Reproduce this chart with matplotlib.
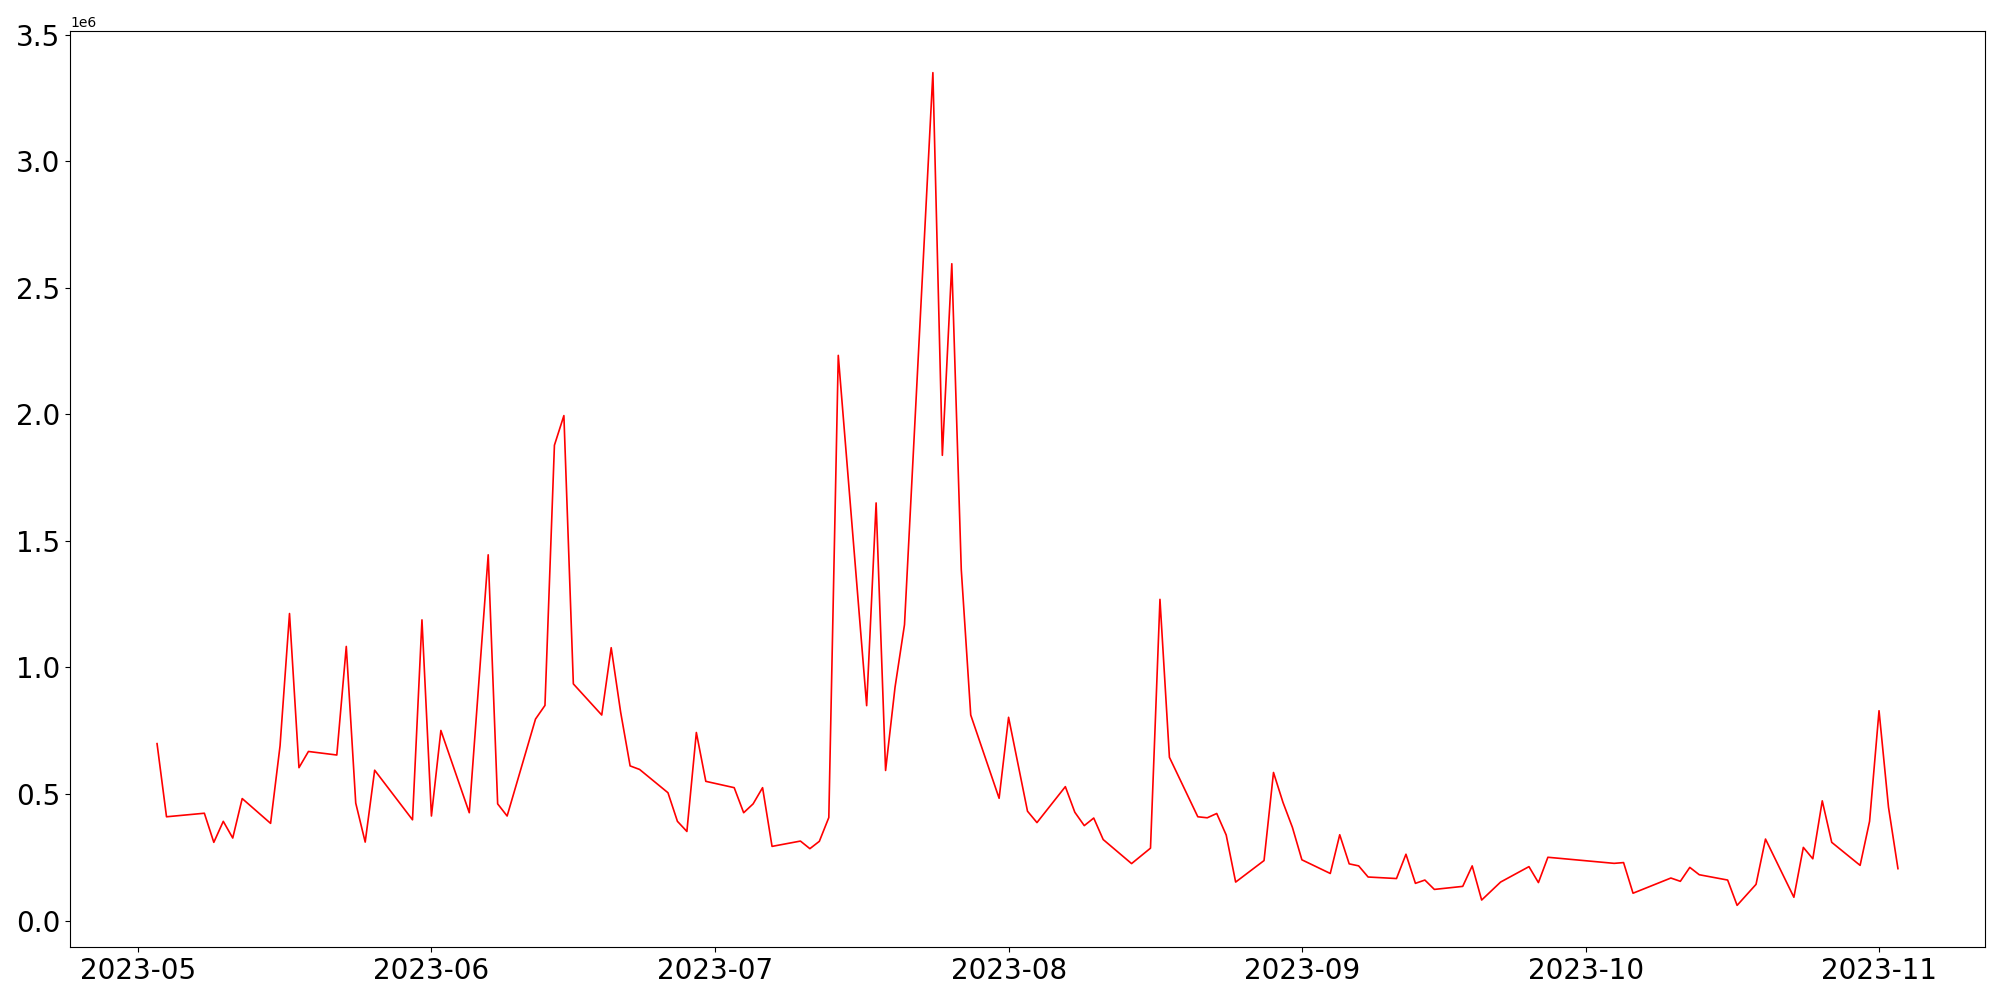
import matplotlib
matplotlib.use("Agg")
import matplotlib.pyplot as plt
import pandas as pd

# daily values
dates = [
    "2023-05-03", "2023-05-04", "2023-05-08", "2023-05-09", "2023-05-10", "2023-05-11", "2023-05-12",
    "2023-05-15", "2023-05-16", "2023-05-17", "2023-05-18", "2023-05-19", "2023-05-22", "2023-05-23",
    "2023-05-24", "2023-05-25", "2023-05-26", "2023-05-30", "2023-05-31",
    "2023-06-01", "2023-06-02", "2023-06-05", "2023-06-07", "2023-06-08", "2023-06-09", "2023-06-12",
    "2023-06-13", "2023-06-14", "2023-06-15", "2023-06-16", "2023-06-19", "2023-06-20", "2023-06-21",
    "2023-06-22", "2023-06-23", "2023-06-26", "2023-06-27", "2023-06-28", "2023-06-29", "2023-06-30",
    "2023-07-03", "2023-07-04", "2023-07-05", "2023-07-06", "2023-07-07", "2023-07-10", "2023-07-11",
    "2023-07-12", "2023-07-13", "2023-07-14", "2023-07-17", "2023-07-18", "2023-07-19", "2023-07-20",
    "2023-07-21", "2023-07-24", "2023-07-25", "2023-07-26", "2023-07-27", "2023-07-28", "2023-07-31",
    "2023-08-01", "2023-08-03", "2023-08-04", "2023-08-07", "2023-08-08", "2023-08-09", "2023-08-10",
    "2023-08-11", "2023-08-14", "2023-08-16", "2023-08-17", "2023-08-18", "2023-08-21", "2023-08-22",
    "2023-08-23", "2023-08-24", "2023-08-25", "2023-08-28", "2023-08-29", "2023-08-30", "2023-08-31",
    "2023-09-01", "2023-09-04", "2023-09-05", "2023-09-06", "2023-09-07", "2023-09-08", "2023-09-11",
    "2023-09-12", "2023-09-13", "2023-09-14", "2023-09-15", "2023-09-18", "2023-09-19", "2023-09-20",
    "2023-09-22", "2023-09-25", "2023-09-26", "2023-09-27",
    "2023-10-04", "2023-10-05", "2023-10-06", "2023-10-10", "2023-10-11", "2023-10-12", "2023-10-13",
    "2023-10-16", "2023-10-17", "2023-10-19", "2023-10-20", "2023-10-23", "2023-10-24", "2023-10-25",
    "2023-10-26", "2023-10-27", "2023-10-30", "2023-10-31",
    "2023-11-01", "2023-11-02", "2023-11-03",
]

values = [
    699000, 410000, 424000, 309000, 392000, 326000, 482000,
    384000, 690000, 1213000, 604000, 668000, 654000, 1083000,
    464000, 310000, 594000, 398000, 1188000,
    413000, 751000, 426000, 1445000, 461000, 413000, 796000,
    850000, 1878000, 1995000, 935000, 812000, 1078000, 823000,
    611000, 597000, 505000, 392000, 352000, 743000, 550000,
    525000, 426000, 461000, 525000, 293000, 314000, 284000,
    313000, 407000, 2233000, 849000, 1650000, 593000, 922000,
    1169000, 3350000, 1838000, 2595000, 1387000, 812000, 483000,
    803000, 432000, 387000, 529000, 428000, 375000, 405000,
    320000, 225000, 286000, 1269000, 645000, 410000, 406000,
    423000, 338000, 152000, 237000, 585000, 467000, 368000,
    240000, 186000, 339000, 224000, 216000, 172000, 166000,
    262000, 147000, 160000, 123000, 135000, 216000, 81000,
    152000, 213000, 150000, 250000,
    226000, 229000, 108000, 168000, 155000, 210000, 181000,
    160000, 60000, 143000, 322000, 92000, 289000, 244000,
    473000, 309000, 218000, 392000,
    829000, 448000, 205000,
]

x = pd.to_datetime(dates)

fig, ax = plt.subplots(figsize=(20, 10), dpi=100)
ax.plot(x, values, color='red', linewidth=1.2)
ax.tick_params(axis='both', labelsize=20)
fig.subplots_adjust(left=0.035, right=0.9925, top=0.969, bottom=0.053)
plt.savefig('out.png', dpi=100)
